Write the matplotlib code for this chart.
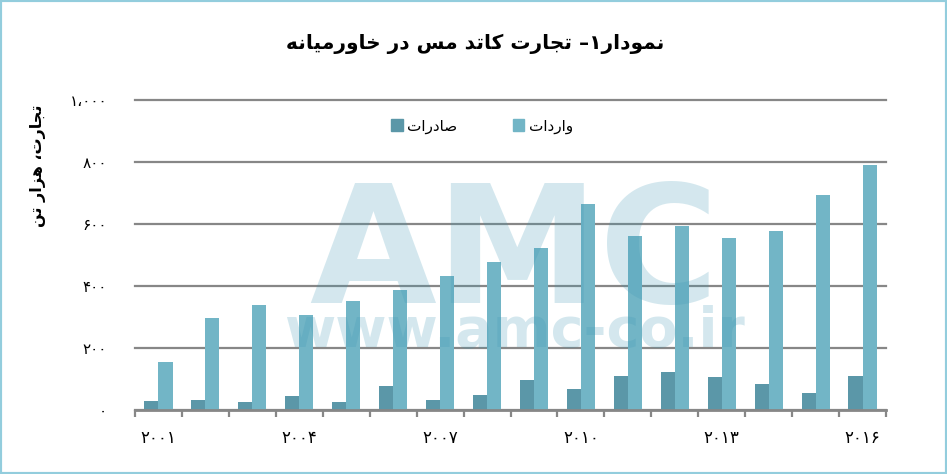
import matplotlib
matplotlib.use("Agg")
import matplotlib.pyplot as plt
from matplotlib.patches import Rectangle, Patch
import numpy as np

# ---- data ------------------------------------------------------------------
years = list(range(2001, 2017))
exports = [30, 33, 26, 45, 26, 77, 32, 48, 97, 68, 110, 123, 106, 84, 55, 110]
imports = [155, 297, 339, 306, 352, 387, 432, 477, 523, 665, 561, 594, 555, 577, 694, 790]
yticks = [0, 200, 400, 600, 800, 1000]
labelled_years = [2001, 2004, 2007, 2010, 2013, 2016]

title = "نمودار۱– تجارت کاتد مس در خاورمیانه"
ylabel = "تجارت، هزار تن"
export_name = "صادرات"
import_name = "واردات"

C_EXP = "#5b97a8"
C_IMP = "#72b5c6"
GRID = "#878787"

# matplotlib has no Arabic shaping: pick presentation forms by hand and lay the
# string out in visual (left-to-right) order.
# forms = isolated, final, initial, medial  (initial None -> joins on the right only)
FORMS = {
    "ا": ("\uFE8D", "\uFE8E", None, None),
    "د": ("\uFEA9", "\uFEAA", None, None),
    "ر": ("\uFEAD", "\uFEAE", None, None),
    "ز": ("\uFEAF", "\uFEB0", None, None),
    "و": ("\uFEED", "\uFEEE", None, None),
    "ت": ("\uFE95", "\uFE96", "\uFE97", "\uFE98"),
    "ج": ("\uFE9D", "\uFE9E", "\uFE9F", "\uFEA0"),
    "خ": ("\uFEA5", "\uFEA6", "\uFEA7", "\uFEA8"),
    "س": ("\uFEB1", "\uFEB2", "\uFEB3", "\uFEB4"),
    "ص": ("\uFEB9", "\uFEBA", "\uFEBB", "\uFEBC"),
    "م": ("\uFEE1", "\uFEE2", "\uFEE3", "\uFEE4"),
    "ن": ("\uFEE5", "\uFEE6", "\uFEE7", "\uFEE8"),
    "ه": ("\uFEE9", "\uFEEA", "\uFEEB", "\uFEEC"),
    "ک": ("\uFB8E", "\uFB8F", "\uFB90", "\uFB91"),
    "ی": ("\uFBFC", "\uFBFD", "\uFBFE", "\uFBFF"),
}


def shape(s):
    out = []
    for i, ch in enumerate(s):
        if ch not in FORMS:
            out.append(ch)
            continue
        prev = s[i - 1] if i > 0 else None
        nxt = s[i + 1] if i + 1 < len(s) else None
        iso, fin, ini, med = FORMS[ch]
        join_prev = prev in FORMS and FORMS[prev][2] is not None
        join_next = nxt in FORMS and ini is not None
        if join_prev and join_next:
            out.append(med)
        elif join_prev:
            out.append(fin)
        elif join_next:
            out.append(ini)
        else:
            out.append(iso)
    return "".join(reversed(out))


FA_DIGITS = str.maketrans("0123456789,", "۰۱۲۳۴۵۶۷۸۹،")


def fa(s):
    return str(s).translate(FA_DIGITS)


plt.rcParams["font.family"] = ["DejaVu Sans"]

fig = plt.figure(figsize=(9.47, 4.74), dpi=100)
W, H = 947, 474
ax = fig.add_axes([135 / W, 1 - 410 / H, (886 - 135) / W, 310 / H])

x = np.arange(len(years))
ax.bar(x - 0.15, exports, width=0.3, color=C_EXP, zorder=2)
ax.bar(x + 0.15, imports, width=0.3, color=C_IMP, zorder=2)

ax.set_xlim(-0.5, len(years) - 0.5)
ax.set_ylim(0, 1000)
ax.set_yticks(yticks)
ax.set_yticklabels([fa(f"{v:,}") for v in yticks], fontsize=11)
ax.tick_params(axis="y", length=0, pad=20)
ax.yaxis.grid(True, color=GRID, lw=1.6, zorder=0)
ax.set_axisbelow(True)
for gl in ax.get_ygridlines():
    gl.set_clip_on(False)

ax.set_xticks(x)
ax.set_xticklabels([fa(y) if y in labelled_years else "" for y in years], fontsize=12)
ax.set_xticks(np.arange(-0.5, len(years)), minor=True)
ax.tick_params(axis="x", which="major", length=0, pad=14)
ax.tick_params(axis="x", which="minor", length=5, width=1.6, color=GRID)

for side in ("top", "right", "left"):
    ax.spines[side].set_visible(False)
ax.spines["bottom"].set_color(GRID)
ax.spines["bottom"].set_linewidth(2)

# legend
handles = [Patch(color=C_EXP), Patch(color=C_IMP)]
fig.legend(handles, [shape(export_name), shape(import_name)], ncol=2,
           loc="center", bbox_to_anchor=(482 / W, 1 - 126 / H), frameon=False,
           fontsize=11, handlelength=0.75, handleheight=0.75, handletextpad=0.3,
           columnspacing=3.6)

fig.text(475 / W, 1 - 44 / H, shape(title), fontsize=14.5, fontweight="bold",
         ha="center", va="center")
fig.text(38 / W, 1 - 166 / H, shape(ylabel), fontsize=11.5, fontweight="bold",
         rotation=90, ha="center", va="center")

# faint site watermark over the plot
wm = dict(fontweight="bold", color="#3c96b4", alpha=0.22, ha="center",
          va="baseline", zorder=5)
fig.text(514 / W, 1 - 303 / H, "AMC", fontsize=118, **wm)
fig.text(514 / W, 1 - 347 / H, "www.amc-co.ir", fontsize=40, **wm)

fig.patches.append(Rectangle((0, 0), 1, 1, transform=fig.transFigure, fill=False,
                             edgecolor="#93cddd", lw=3))

fig.savefig("out.png", dpi=100)
